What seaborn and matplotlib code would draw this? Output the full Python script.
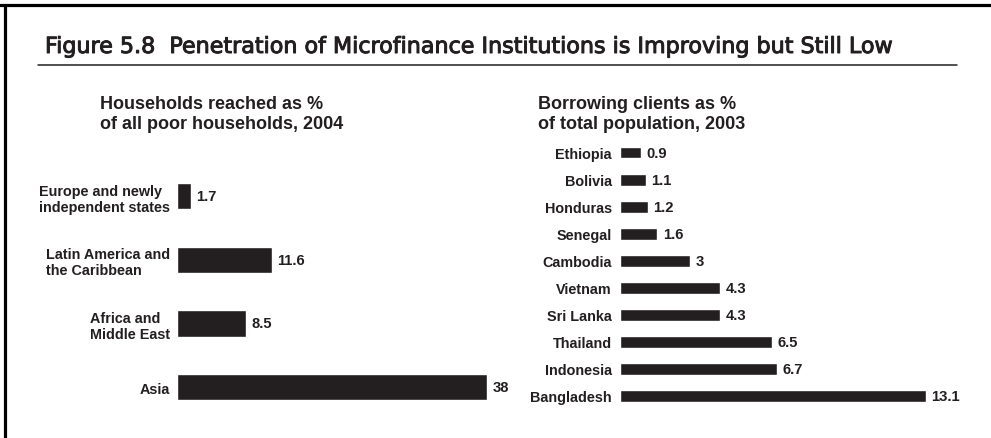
import matplotlib
matplotlib.use("Agg")
import matplotlib.pyplot as plt
from matplotlib.lines import Line2D
import matplotlib.patheffects as pe
import seaborn as sns
import pandas as pd

# left panel: households reached as % of all poor households, 2004
regions = ["Europe and newly\nindependent states", "Latin America and\nthe Caribbean",
           "Africa and\nMiddle East", "Asia"]
region_vals = [1.7, 11.6, 8.5, 38]
region_labels = ["1.7", "11.6", "8.5", "38"]

# right panel: borrowing clients as % of total population, 2003
countries = ["Ethiopia", "Bolivia", "Honduras", "Senegal", "Cambodia",
             "Vietnam", "Sri Lanka", "Thailand", "Indonesia", "Bangladesh"]
country_vals = [0.9, 1.1, 1.2, 1.6, 3, 4.3, 4.3, 6.5, 6.7, 13.1]
country_labels = ["0.9", "1.1", "1.2", "1.6", "3", "4.3", "4.3", "6.5", "6.7", "13.1"]

title = "Figure 5.8  Penetration of Microfinance Institutions is Improving but Still Low"
sub_left = "Households reached as %\nof all poor households, 2004"
sub_right = "Borrowing clients as %\nof total population, 2003"

sns.set_style("white")
plt.rcParams['font.family'] = ['Liberation Sans', 'DejaVu Sans']

W, H = 991, 439
ink = "#231f20"
fig = plt.figure(figsize=(W / 100, H / 100), dpi=100)


def px_axes(left, top, right, bottom):
    return fig.add_axes([left / W, 1 - bottom / H, (right - left) / W, (bottom - top) / H])


def panel(ax, cats, vals, labels, xmax, width, pad):
    df = pd.DataFrame({"cat": cats, "val": vals})
    sns.barplot(data=df, x="val", y="cat", orient="h", color=ink, saturation=1,
                width=width, ax=ax)
    ax.set_xlim(0, xmax)
    ax.set_xlabel("")
    ax.set_ylabel("")
    ax.set_xticks([])
    sns.despine(ax=ax, left=True, bottom=True)
    ax.tick_params(axis="y", length=0, pad=pad)
    for t in ax.get_yticklabels():
        t.set_fontsize(10.4)
        t.set_fontweight("bold")
        t.set_color(ink)
        t.set_multialignment("left")
    ax.bar_label(ax.containers[0], labels=labels, padding=4, fontsize=10.6,
                 fontweight="bold", color=ink)
    ax.set_facecolor("none")


# left panel: bars start at x=177, 38 -> 487 px
axl = px_axes(177, 165.2, 500, 420)
panel(axl, regions, region_vals, region_labels, 323 / (310 / 38), 0.41, 5)

# right panel: bars start at x=620, 13.1 -> 926 px
axr = px_axes(620, 140, 960, 410.5)
panel(axr, countries, country_vals, country_labels, 340 / (306 / 13.1), 0.44, 5.8)

# title, rules and subtitles
fig.text(45 / W, 1 - 54 / H, title, fontsize=16, va="baseline", ha="left", color=ink,
         family=['Liberation Sans Narrow', 'DejaVu Sans Condensed', 'DejaVu Sans'],
         path_effects=[pe.withStroke(linewidth=0.7, foreground=ink)])
fig.add_artist(Line2D([38 / W, 957 / W], [1 - 66 / H] * 2, color=ink, lw=1.1))
fig.add_artist(Line2D([0, 1], [1 - 5.5 / H] * 2, color="black", lw=2.3))
fig.add_artist(Line2D([4.5 / W] * 2, [0, 1 - 5.5 / H], color="black", lw=2.3))

fig.text(100 / W, 1 - 129 / H, sub_left, fontsize=13, fontweight="bold", color=ink,
         va="baseline", ha="left", linespacing=1.2)
fig.text(538 / W, 1 - 129 / H, sub_right, fontsize=13, fontweight="bold", color=ink,
         va="baseline", ha="left", linespacing=1.2)

fig.savefig("out.png", dpi=100)
